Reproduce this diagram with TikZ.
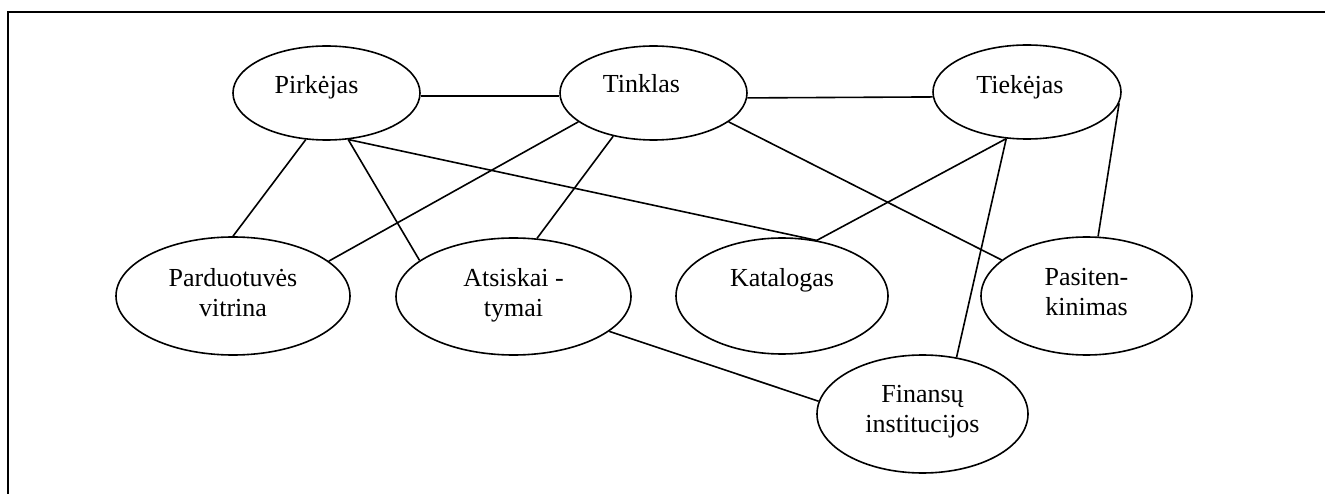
\documentclass[tikz,border=0pt]{standalone}
\usepackage{fontspec}
\setmainfont{Liberation Serif}
\usetikzlibrary{shapes.geometric}
\begin{document}
\begin{tikzpicture}[x=1pt,y=-1pt,
  bubble/.style={draw,ellipse,line width=1.6pt,inner sep=0pt},
  word/.style={font=\fontsize{26}{30}\selectfont,align=center,inner sep=0pt},
  link/.style={line width=1.6pt}]
\useasboundingbox (0,0) rectangle (1325,494);
\draw[line width=2.2pt] (8,494) -- (8,12) -- (1325,12);

\node[bubble,minimum width=187,minimum height=94,label={[word,xshift=-10pt,yshift=6pt]center:Pirkėjas}] (pirk) at (326.5,93) {};
\node[bubble,minimum width=187,minimum height=94,label={[word,xshift=-12pt,yshift=9pt]center:Tinklas}] (tink) at (653.5,93) {};
\node[bubble,minimum width=188,minimum height=94,label={[word,xshift=-7pt,yshift=4.7pt]center:Tiekėjas}] (tiek) at (1027,92) {};
\node[bubble,minimum width=234,minimum height=118,label={[word,yshift=3.6pt]center:Parduotuvės\\vitrina}] (pard) at (233,296) {};
\node[bubble,minimum width=235,minimum height=117,label={[word,yshift=1.2pt]center:Atsiskai -\\tymai}] (atsi) at (513.5,296.5) {};
\node[bubble,minimum width=212,minimum height=116,label={[word,yshift=15.4pt]center:Katalogas}] (kata) at (782,296) {};
\node[bubble,minimum width=211,minimum height=118,label={[word,yshift=3.6pt]center:Pasiten-\\kinimas}] (pasi) at (1086.5,296) {};
\node[bubble,minimum width=211,minimum height=118,label={[word,yshift=2pt]center:Finansų\\institucijos}] (fina) at (922.5,414) {};

\draw[link] (pirk.-2.4) -- (tink.182.4); \draw[link] (tink.-3.1) -- (tiek.183.5);
\draw[link] (pirk.246) -- (pard.90); \draw[link] (pirk.-65.7) -- (atsi.159.4); \draw[link] (pirk.-65.7) -- (kata.58.9);
\draw[link] (tink.201.7) -- (pard.20.3); \draw[link] (tink.227.6) -- (atsi.68.4); \draw[link] (tink.-21.7) -- (pasi.157.7);
\draw[link] (tiek.246.4) -- (kata.58.9); \draw[link] (tiek.246.4) -- (fina.59.7); \draw[link] (tiek.-7.9) -- (pasi.79);
\draw[link] (atsi.-20.6) -- (fina.173.4);
\end{tikzpicture}
\end{document}
